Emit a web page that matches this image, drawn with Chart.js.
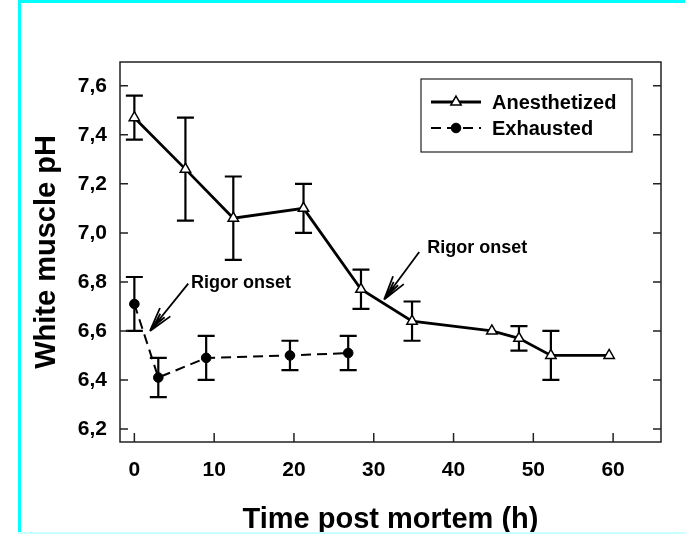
<!DOCTYPE html>
<html>
<head>
<meta charset="utf-8">
<script src="https://cdn.jsdelivr.net/npm/chart.js@4.4.1/dist/chart.umd.min.js"></script>
<style>
html, body { margin: 0; padding: 0; background: #fff; }
#wrap { position: relative; width: 685px; height: 534px; overflow: hidden; }
#myChart { position: absolute; left: 0; top: 0; }
.bord { position: absolute; background: #00ffff; }
</style>
</head>
<body>
<div id="wrap">
  <canvas id="myChart" width="685" height="534"></canvas>
  <div class="bord" style="left:18px;top:0;width:667px;height:3px"></div>
  <div class="bord" style="left:18px;top:0;width:3px;height:534px"></div>
  <div class="bord" style="left:18px;top:532px;width:667px;height:2px;background:#c8ffff"></div>
</div>
<script>
// ...........les donnees...........
const anesTime = [0, 6.4, 12.4, 21.2, 28.4, 34.8, 44.8, 48.2, 52.2, 59.5];
const anesPH   = [7.47, 7.26, 7.06, 7.10, 6.77, 6.64, 6.60, 6.57, 6.50, 6.50];
const anesErr  = [0.09, 0.21, 0.17, 0.10, 0.08, 0.08, 0, 0.05, 0.10, 0];

const exhTime = [0, 3.0, 9.0, 19.5, 26.8];
const exhPH   = [6.71, 6.41, 6.49, 6.50, 6.51];
const exhErr  = [0.11, 0.08, 0.09, 0.06, 0.07];

const xTicks = [0, 10, 20, 30, 40, 50, 60];
const yTicks = [6.2, 6.4, 6.6, 6.8, 7.0, 7.2, 7.4, 7.6];

// annotations "Rigor onset" (coordonnees en unites des axes)
const notes = [
  { text: 'Rigor onset', tx: 7.1, ty: 6.795, from: [6.75, 6.793], to: [1.96, 6.60] },
  { text: 'Rigor onset', tx: 36.7, ty: 6.94, from: [35.7, 6.922], to: [31.3, 6.728] }
];

const FONT = '"Liberation Sans", Arial, sans-serif';
Chart.defaults.font.family = FONT;

// ...........barres d'erreur...........
const errorBars = {
  id: 'errorBars',
  beforeDatasetsDraw(chart) {
    const c = chart.ctx, xs = chart.scales.x, ys = chart.scales.y;
    c.save();
    c.strokeStyle = '#000';
    c.lineWidth = 2.2;
    chart.data.datasets.forEach((ds, i) => {
      ds.errors.forEach((e, j) => {
        if (!e) return;
        const p = ds.data[j];
        const x = xs.getPixelForValue(p.x);
        const yt = ys.getPixelForValue(p.y + e);
        const yb = ys.getPixelForValue(p.y - e);
        c.beginPath();
        c.moveTo(x, yt); c.lineTo(x, yb);
        c.moveTo(x - 8.5, yt); c.lineTo(x + 8.5, yt);
        c.moveTo(x - 8.5, yb); c.lineTo(x + 8.5, yb);
        c.stroke();
      });
    });
    c.restore();
  }
};

// ...........cadre + graduations vers l'interieur...........
const frame = {
  id: 'frame',
  afterDraw(chart) {
    const c = chart.ctx, a = chart.chartArea, xs = chart.scales.x, ys = chart.scales.y;
    c.save();
    c.strokeStyle = '#222';
    c.lineWidth = 1.5;
    c.strokeRect(a.left, a.top, a.right - a.left, a.bottom - a.top);
    c.beginPath();
    yTicks.forEach(v => {
      const y = ys.getPixelForValue(v);
      c.moveTo(a.left, y); c.lineTo(a.left + 8, y);
      c.moveTo(a.right, y); c.lineTo(a.right - 8, y);
    });
    xTicks.forEach(v => {
      const x = xs.getPixelForValue(v);
      c.moveTo(x, a.bottom); c.lineTo(x, a.bottom - 9);
    });
    c.stroke();
    c.restore();
  }
};

// ...........annotations fleches...........
const arrows = {
  id: 'arrows',
  afterDraw(chart) {
    const c = chart.ctx, xs = chart.scales.x, ys = chart.scales.y;
    c.save();
    c.strokeStyle = '#000';
    c.fillStyle = '#000';
    c.lineWidth = 1.8;
    c.font = 'bold 18px ' + FONT;
    c.textBaseline = 'middle';
    notes.forEach(n => {
      const x0 = xs.getPixelForValue(n.from[0]), y0 = ys.getPixelForValue(n.from[1]);
      const x1 = xs.getPixelForValue(n.to[0]), y1 = ys.getPixelForValue(n.to[1]);
      const ang = Math.atan2(y0 - y1, x0 - x1);
      c.beginPath();
      c.moveTo(x0, y0); c.lineTo(x1, y1);
      [-0.27, 0.27].forEach(d => {
        c.moveTo(x1, y1);
        c.lineTo(x1 + 25 * Math.cos(ang + d), y1 + 25 * Math.sin(ang + d));
      });
      // petits traits interieurs de la pointe
      [-0.14, 0.14].forEach(d => {
        c.moveTo(x1 + 6 * Math.cos(ang), y1 + 6 * Math.sin(ang));
        c.lineTo(x1 + 20 * Math.cos(ang + d), y1 + 20 * Math.sin(ang + d));
      });
      c.stroke();
      c.fillText(n.text, xs.getPixelForValue(n.tx), ys.getPixelForValue(n.ty));
    });
    c.restore();
  }
};

// ...........legende dans le graphe...........
const legendBox = {
  id: 'legendBox',
  afterDraw(chart) {
    const c = chart.ctx, a = chart.chartArea;
    const bx = a.left + 301, by = a.top + 17, bw = 211, bh = 73;
    c.save();
    c.fillStyle = '#fff';
    c.fillRect(bx, by, bw, bh);
    c.strokeStyle = '#222';
    c.lineWidth = 1.2;
    c.strokeRect(bx, by, bw, bh);
    chart.data.datasets.forEach((ds, i) => {
      const y = by + 23 + i * 26;
      const xl = bx + 10, xr = bx + 60, xm = (xl + xr) / 2;
      c.strokeStyle = '#000';
      c.lineWidth = ds.borderWidth;
      c.setLineDash(ds.borderDash || []);
      c.beginPath(); c.moveTo(xl, y); c.lineTo(xr, y); c.stroke();
      c.setLineDash([]);
      c.lineWidth = ds.pointBorderWidth;
      c.fillStyle = ds.pointBackgroundColor;
      c.strokeStyle = ds.pointBorderColor;
      Chart.helpers.drawPoint(c, { pointStyle: ds.pointStyle, radius: ds.pointRadius, borderWidth: ds.pointBorderWidth, rotation: 0 }, xm, y);
      c.fillStyle = '#000';
      c.font = 'bold 20px ' + FONT;
      c.textBaseline = 'middle';
      c.fillText(ds.label, bx + 71, y + 1);
    });
    c.restore();
  }
};

// ...........le Graph...........
const ctx = document.getElementById('myChart').getContext('2d');
const chart = new Chart(ctx, {
  type: 'line',
  data: {
    datasets: [{
      label: 'Anesthetized',
      data: anesTime.map((t, i) => ({ x: t, y: anesPH[i] })),
      errors: anesErr,
      borderColor: '#000',
      borderWidth: 2.8,
      tension: 0,
      pointStyle: 'triangle',
      pointRadius: 6,
      pointBackgroundColor: '#fff',
      pointBorderColor: '#000',
      pointBorderWidth: 1.5
    }, {
      label: 'Exhausted',
      data: exhTime.map((t, i) => ({ x: t, y: exhPH[i] })),
      errors: exhErr,
      borderColor: '#000',
      borderWidth: 2,
      borderDash: [10, 6],
      tension: 0,
      pointStyle: 'circle',
      pointRadius: 4.8,
      pointBackgroundColor: '#000',
      pointBorderColor: '#000',
      pointBorderWidth: 1
    }]
  },
  options: {
    responsive: false,
    animation: false,
    layout: { padding: { left: 0, top: 62, right: 24, bottom: 0 } },
    plugins: { legend: { display: false }, tooltip: { enabled: false } },
    scales: {
      x: {
        type: 'linear',
        min: -1.8,
        max: 66,
        grid: { display: false, drawTicks: false },
        border: { display: false },
        afterBuildTicks: s => { s.ticks = xTicks.map(v => ({ value: v })); },
        afterFit: s => { s.height = 92; },
        ticks: { color: '#000', padding: 16, maxRotation: 0, autoSkip: false,
                 font: { size: 21, weight: 'bold' } },
        title: { display: true, text: 'Time post mortem (h)', color: '#000',
                 font: { size: 29, weight: 'bold', lineHeight: 1 }, padding: { top: 0, bottom: 0 } }
      },
      y: {
        type: 'linear',
        min: 6.147,
        max: 7.697,
        grid: { display: false, drawTicks: false },
        border: { display: false },
        afterBuildTicks: s => { s.ticks = yTicks.map(v => ({ value: v })); },
        afterFit: s => { s.width = 120; },
        ticks: { color: '#000', padding: 13, autoSkip: false,
                 font: { size: 21, weight: 'bold' },
                 callback: v => v.toFixed(1).replace('.', ',') },
        title: { display: true, text: 'White muscle pH', color: '#000',
                 font: { size: 29, weight: 'bold', lineHeight: 1 }, padding: { top: 32.5, bottom: 0 } }
      }
    }
  },
  plugins: [errorBars, frame, arrows, legendBox]
});
</script>
</body>
</html>
